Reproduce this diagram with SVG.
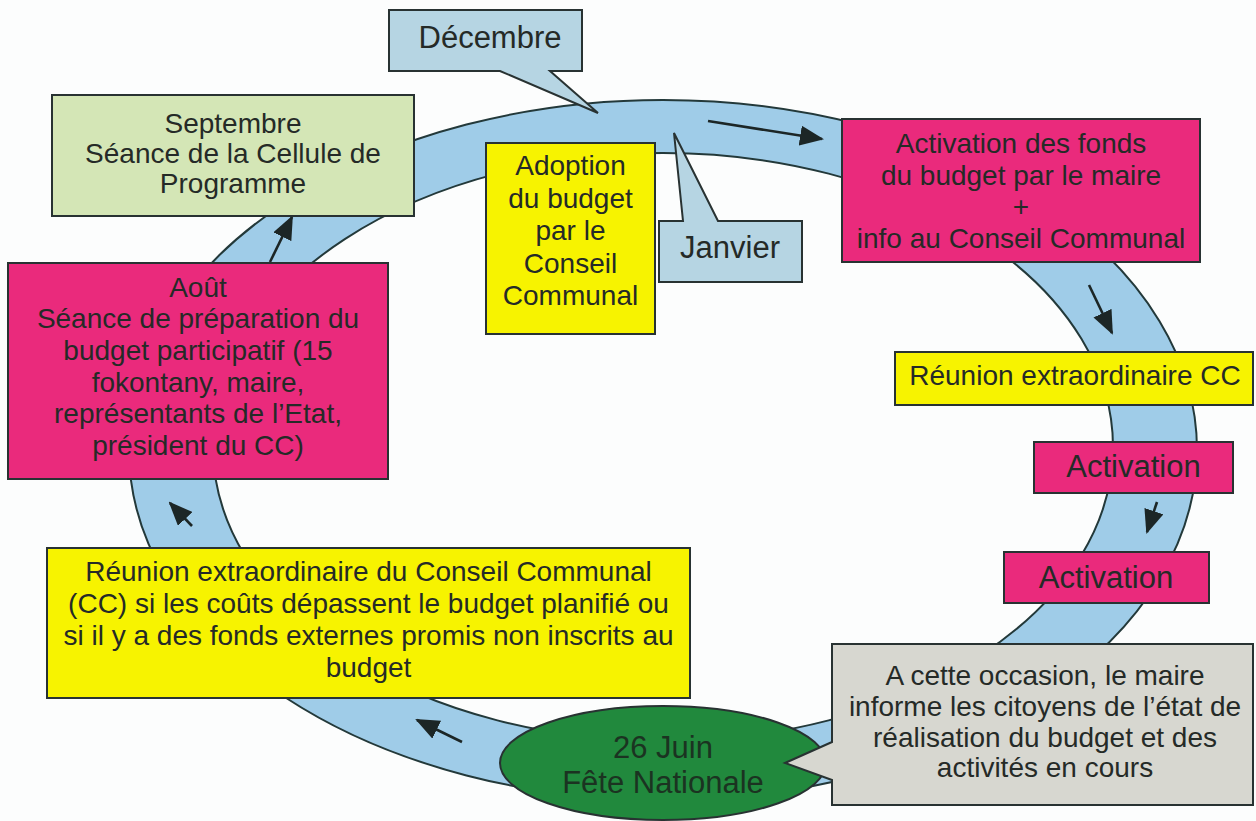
<svg xmlns="http://www.w3.org/2000/svg" width="1256" height="821" viewBox="0 0 1256 821">
<defs>
<style>
.box{stroke:#283232;stroke-width:2}
.t{font-family:"Liberation Sans",Arial,Helvetica,sans-serif;fill:#252a27;text-anchor:middle}
.b{font-size:28px}
.m{font-size:31px}
.mag{fill:#ea2a7c}
.yel{fill:#f7f300}
.mon{fill:#b6d5e3}
.arr{stroke:#1c2626;stroke-width:2.6;fill:none;marker-end:url(#ah)}
</style>
<marker id="ah" viewBox="0 0 12 10" refX="11" refY="5" markerWidth="24" markerHeight="20" markerUnits="userSpaceOnUse" orient="auto">
<path d="M0,0 L12,5 L0,10 Z" fill="#1c2626"/>
</marker>
</defs>
<rect width="1256" height="821" fill="#fcfdfd"/>

<g id="cycle">
<path d="M129,450 A534,350 0 1,0 1197,450 A534,350 0 1,0 129,450 Z M213,447 A450,294 0 1,0 1113,447 A450,294 0 1,0 213,447 Z" fill="#9fcce8" fill-rule="evenodd" stroke="#23393a" stroke-width="2"/>
</g>

<g id="connectors">
<line class="arr" x1="708" y1="121" x2="822" y2="139"/>
<line class="arr" x1="1089" y1="285" x2="1112" y2="333"/>
<line class="arr" x1="1157" y1="502" x2="1147" y2="532"/>
<line class="arr" x1="462" y1="742" x2="417" y2="720"/>
<line class="arr" x1="192" y1="526" x2="170" y2="503"/>
<line class="arr" x1="270" y1="262" x2="292" y2="217"/>
</g>

<g id="decembre">
<path class="box mon" d="M389,10 H582 V71 H550 L598,113 L500,71 H389 Z"/>
<text class="t m" x="490" y="48">Décembre</text>
</g>

<g id="janvier">
<path class="box mon" d="M659,221 H683 L674,133 L718,221 H802 V282 H659 Z"/>
<text class="t m" x="730" y="258">Janvier</text>
</g>

<g id="septembre">
<rect class="box" x="52" y="95" width="362" height="121" fill="#d4e6b6"/>
<text class="t b" x="233" y="133">Septembre</text>
<text class="t b" x="233" y="163">Séance de la Cellule de</text>
<text class="t b" x="233" y="193">Programme</text>
</g>

<g id="adoption">
<rect class="box yel" x="486" y="143" width="169" height="191"/>
<text class="t b" x="570.5" y="175">Adoption</text>
<text class="t b" x="570.5" y="207.5">du budget</text>
<text class="t b" x="570.5" y="240">par le</text>
<text class="t b" x="570.5" y="272.5">Conseil</text>
<text class="t b" x="570.5" y="305">Communal</text>
</g>

<g id="aout">
<rect class="box mag" x="8" y="263" width="380" height="216"/>
<text class="t b" x="198" y="297">Août</text>
<text class="t b" x="198" y="328">Séance de préparation du</text>
<text class="t b" x="198" y="360">budget participatif (15</text>
<text class="t b" x="198" y="392">fokontany, maire,</text>
<text class="t b" x="198" y="423">représentants de l’Etat,</text>
<text class="t b" x="198" y="455">président du CC)</text>
</g>

<g id="activation-fonds">
<rect class="box mag" x="842" y="119" width="358" height="143"/>
<text class="t b" x="1021" y="153">Activation des fonds</text>
<text class="t b" x="1021" y="184.5">du budget par le maire</text>
<text class="t b" x="1021" y="216">+</text>
<text class="t b" x="1021" y="247.5">info au Conseil Communal</text>
</g>

<g id="reunion-cc">
<rect class="box yel" x="895" y="352" width="358" height="53"/>
<text class="t b" x="1075" y="385">Réunion extraordinaire CC</text>
</g>

<g id="activation-1">
<rect class="box mag" x="1034" y="442" width="199" height="51"/>
<text class="t m" x="1133.5" y="477">Activation</text>
</g>

<g id="activation-2">
<rect class="box mag" x="1004" y="552" width="205" height="51"/>
<text class="t m" x="1106" y="588">Activation</text>
</g>

<g id="reunion-conseil">
<rect class="box yel" x="47" y="548" width="643" height="150"/>
<text class="t b" x="368.5" y="581">Réunion extraordinaire du Conseil Communal</text>
<text class="t b" x="368.5" y="613">(CC) si les coûts dépassent le budget planifié ou</text>
<text class="t b" x="368.5" y="645">si il y a des fonds externes promis non inscrits au</text>
<text class="t b" x="368.5" y="677">budget</text>
</g>

<g id="fete-nationale">
<ellipse class="box" cx="663" cy="763" rx="163" ry="57" fill="#21893d"/>
<text class="t m" x="663" y="758" style="fill:#1b3321">26 Juin</text>
<text class="t m" x="663" y="793" style="fill:#1b3321">Fête Nationale</text>
</g>

<g id="occasion">
<path class="box" d="M832,644 H1253 V805 H832 V780 L785,763 L832,742 Z" fill="#d7d7d0"/>
<text class="t b" x="1045" y="685">A cette occasion, le maire</text>
<text class="t b" x="1045" y="716">informe les citoyens de l’état de</text>
<text class="t b" x="1045" y="747">réalisation du budget et des</text>
<text class="t b" x="1045" y="777">activités en cours</text>
</g>
</svg>
